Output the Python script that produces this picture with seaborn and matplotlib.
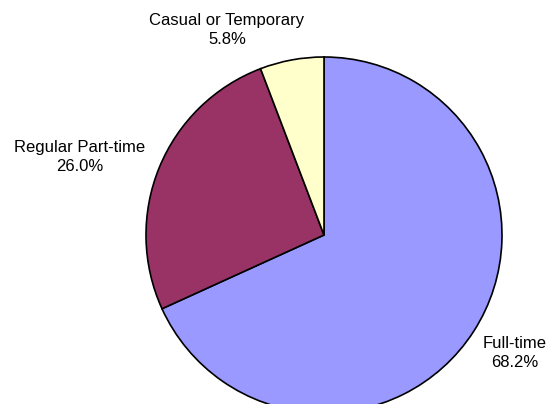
import matplotlib
matplotlib.use("Agg")
import matplotlib.pyplot as plt
import seaborn as sns

categories = ["Full-time", "Regular Part-time", "Casual or Temporary"]
values = [68.2, 26.0, 5.8]
colors = ["#9999FF", "#993366", "#FFFFCC"]

sns.set_theme(style="white")
plt.rcParams["font.family"] = ["Liberation Sans", "DejaVu Sans"]

W, H = 551, 404
fig = plt.figure(figsize=(W / 100, H / 100), dpi=100)
ax = fig.add_axes([0, 0, 1, 1])

ax.pie(values, colors=colors, startangle=90, counterclock=False,
       center=(324, H - 235), radius=178, frame=True,
       wedgeprops=dict(edgecolor="black", linewidth=1.2))
ax.set_xlim(0, W)
ax.set_ylim(0, H)
ax.set_aspect("equal")
ax.axis("off")

label_pos = {
    "Full-time": (515, H - 353),
    "Regular Part-time": (80, H - 157),
    "Casual or Temporary": (227, H - 30),
}
for cat, val in zip(categories, values):
    x, y = label_pos[cat]
    ax.text(x, y, f"{cat}\n{val:.1f}%", ha="center", va="center",
            fontsize=12, color="black", linespacing=1.4)

fig.savefig("out.png", dpi=100)
